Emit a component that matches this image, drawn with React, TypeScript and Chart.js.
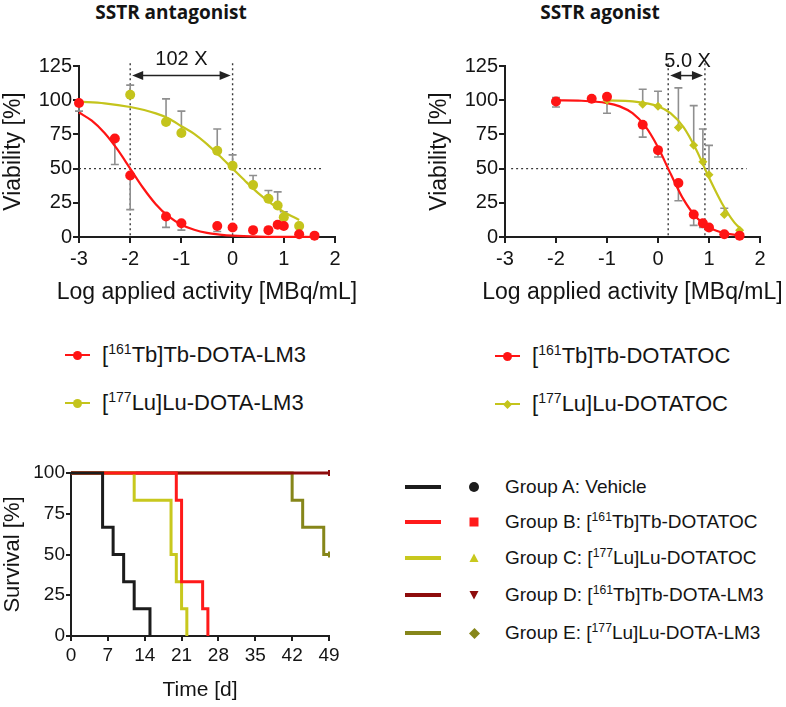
import React, { useEffect, useRef } from 'react';
import { Chart, registerables } from 'chart.js';

Chart.register(...registerables);

const FONT = '"Liberation Sans", Arial, Helvetica, sans-serif';
const TITLE_FONT = '"Open Sans", "Liberation Sans", sans-serif';
const RED = '#ff1414';
const YEL = '#c4c41c';
const GRAY = '#8f8f8f';
const AXIS = '#1e1e1e';
const TXT = '#141414';

// ---------- SSTR antagonist ----------
const antTbX = [-3, -2.3, -2, -1.3, -1, -0.3, 0, 0.4, 0.7, 0.88, 1, 1.3, 1.6];
const antTbY = [98, 72, 45, 15, 10, 8, 7, 5, 5, 9, 8, 2, 1];
const antTbErrLow = [6, 19, 25, 8, 5, 4, 0, 0, 0, 0, 0, 0, 0];
const antLuX = [-2, -1.3, -1, -0.3, 0, 0.4, 0.7, 0.88, 1, 1.3];
const antLuY = [104, 84, 76, 63, 52, 38, 28, 23, 14.5, 8];
const antLuErrHigh = [7, 17, 16, 16, 8, 7, 6, 10, 4, 0];
const antTbCurveX = [-3, -2.75, -2.5, -2.25, -2, -1.75, -1.5, -1.25, -1, -0.75, -0.5, -0.25, 0, 0.5, 1, 1.6];
const antTbCurveY = [91, 85, 76, 64, 50, 36, 24, 15, 9, 5.3, 3, 1.8, 1, 0.3, 0.1, 0];
const antLuCurveX = [-3, -2.5, -2, -1.5, -1.25, -1, -0.75, -0.5, -0.25, 0, 0.25, 0.5, 0.75, 1, 1.3];
const antLuCurveY = [98.9, 97.7, 95, 90.4, 86.7, 81, 75.4, 67.9, 59.2, 50, 40.8, 32.1, 24.6, 18.3, 12.5];
const antGuideX = [-2, 0];
const antFoldLabel = '102 X';

// ---------- SSTR agonist ----------
const agoTbX = [-2, -1.3, -1, -0.3, 0, 0.4, 0.7, 0.88, 1, 1.3, 1.6];
const agoTbY = [99, 101, 102.5, 82, 63.5, 39.5, 16.5, 10, 7, 2, 1];
const agoTbErrLow = [4, 0, 12, 9, 5, 13, 8, 3, 0, 0, 0];
const agoTbErrHigh = [3, 0, 0, 0, 0, 0, 0, 0, 0, 0, 0];
const agoLuX = [-1, -0.3, 0, 0.4, 0.7, 0.88, 1, 1.3, 1.6];
const agoLuY = [100, 97, 95.5, 80, 67, 55, 45.5, 16.5, 5];
const agoLuErrHigh = [0, 11, 11, 29, 29, 24, 21.5, 4.5, 0];
const agoTbCurveX = [-2, -1.5, -1, -0.75, -0.5, -0.25, 0, 0.25, 0.5, 0.75, 1, 1.25, 1.6];
const agoTbCurveY = [99.9, 99.6, 97.9, 95.5, 90.5, 81, 65.6, 46, 27.5, 14.5, 7, 3.3, 1.1];
const agoLuCurveX = [-1, -0.5, 0, 0.25, 0.5, 0.75, 1, 1.25, 1.5, 1.65];
const agoLuCurveY = [99.8, 99.1, 95.6, 90.3, 80.3, 63.8, 43.4, 24.9, 10.5, 5];
const agoGuideX = [0.2, 0.92];
const agoFoldLabel = '5.0 X';

const doseTicksX = [-3, 2];
const doseTicksY = [0, 125];
const doseXTitle = 'Log applied activity [MBq/mL]';
const doseYTitle = 'Viability [%]';

// ---------- Survival ----------
const survATime = [0, 6, 8, 10, 12, 15];
const survAPct = [100, 66.7, 50, 33.3, 16.7, 0];
const survBTime = [0, 20, 21, 25, 26];
const survBPct = [100, 83.3, 33.3, 16.7, 0];
const survCTime = [0, 12, 19, 20, 21, 22];
const survCPct = [100, 83.3, 50, 33.3, 16.7, 0];
const survDTime = [0, 49];
const survDPct = [100, 100];
const survETime = [0, 42, 44, 48, 49];
const survEPct = [100, 83.3, 66.7, 50, 50];
const survColors = ['#1c1c1c', '#ff1a1a', '#c8c81e', '#8e0c0c', '#86861a'];

const pts = (xs: number[], ys: number[]) => xs.map((x, i) => ({ x, y: ys[i] }));

const guidePlugin = {
  id: 'guides',
  beforeDatasetsDraw(chart: any, _a: any, opts: any) {
    if (!opts || !opts.vlines) return;
    const { ctx } = chart;
    const xs = chart.scales.x;
    const ys = chart.scales.y;
    ctx.save();
    ctx.setLineDash([2, 3]);
    ctx.strokeStyle = '#3a3a3a';
    ctx.lineWidth = 1.4;
    opts.vlines.forEach((v: number) => {
      const px = xs.getPixelForValue(v);
      ctx.beginPath();
      ctx.moveTo(px, ys.getPixelForValue(opts.vTop));
      ctx.lineTo(px, ys.getPixelForValue(0));
      ctx.stroke();
    });
    ctx.beginPath();
    ctx.moveTo(xs.getPixelForValue(opts.hFrom), ys.getPixelForValue(50));
    ctx.lineTo(xs.getPixelForValue(opts.hTo), ys.getPixelForValue(50));
    ctx.stroke();
    ctx.restore();
  },
  afterDatasetsDraw(chart: any, _a: any, opts: any) {
    if (!opts || !opts.vlines) return;
    const { ctx } = chart;
    const xs = chart.scales.x;
    const ys = chart.scales.y;
    const x0 = xs.getPixelForValue(opts.vlines[0]) + 2;
    const x1 = xs.getPixelForValue(opts.vlines[1]) - 2;
    const y = ys.getPixelForValue(opts.arrowY);
    ctx.save();
    ctx.strokeStyle = '#222';
    ctx.fillStyle = '#222';
    ctx.lineWidth = 1.5;
    ctx.beginPath();
    ctx.moveTo(x0 + 6, y);
    ctx.lineTo(x1 - 6, y);
    ctx.stroke();
    const head = (tip: number, dir: number) => {
      ctx.beginPath();
      ctx.moveTo(tip, y);
      ctx.lineTo(tip + dir * 11, y - 4.5);
      ctx.lineTo(tip + dir * 11, y + 4.5);
      ctx.closePath();
      ctx.fill();
    };
    head(x0, 1);
    head(x1, -1);
    ctx.font = `20px ${FONT}`;
    ctx.textAlign = 'center';
    ctx.textBaseline = 'middle';
    ctx.fillStyle = TXT;
    ctx.fillText(opts.label, xs.getPixelForValue(opts.labelX), ys.getPixelForValue(opts.labelY));
    ctx.restore();
  },
};

// x-axis title drawn without Chart.js' maxWidth squeeze
const xTitlePlugin = {
  id: 'xTitle',
  afterDraw(chart: any, _a: any, opts: any) {
    if (!opts || !opts.text) return;
    const { ctx, chartArea } = chart;
    ctx.save();
    ctx.font = `${opts.size}px ${FONT}`;
    ctx.fillStyle = TXT;
    ctx.textAlign = 'center';
    ctx.textBaseline = 'middle';
    ctx.fillText(opts.text, (chartArea.left + chartArea.right) / 2, chartArea.bottom + opts.offset);
    ctx.restore();
  },
};

const errorBarPlugin = {
  id: 'errbars',
  beforeDatasetsDraw(chart: any) {
    const { ctx } = chart;
    const ys = chart.scales.y;
    chart.data.datasets.forEach((ds: any, i: number) => {
      if (!ds.errLow && !ds.errHigh) return;
      const meta = chart.getDatasetMeta(i);
      ctx.save();
      ctx.strokeStyle = GRAY;
      ctx.lineWidth = 1.6;
      ds.data.forEach((p: any, j: number) => {
        const px = meta.data[j].x;
        const py = ys.getPixelForValue(p.y);
        [
          [ds.errLow, -1],
          [ds.errHigh, 1],
        ].forEach(([arr, s]: any) => {
          const e = arr ? arr[j] : 0;
          if (!e) return;
          const ey = ys.getPixelForValue(p.y + s * e);
          ctx.beginPath();
          ctx.moveTo(px, py);
          ctx.lineTo(px, ey);
          ctx.moveTo(px - 4, ey);
          ctx.lineTo(px + 4, ey);
          ctx.stroke();
        });
      });
      ctx.restore();
    });
  },
};

function axisBase(min: number, max: number, step: number, size: number, pad: number, tickLen: number) {
  return {
    type: 'linear',
    min,
    max,
    ticks: { stepSize: step, font: { family: FONT, size }, color: TXT, padding: pad },
    grid: { display: true, drawOnChartArea: false, drawTicks: true, tickLength: tickLen, color: AXIS, lineWidth: 2 },
    border: { display: true, color: AXIS, width: 2 },
  };
}

function doseConfig(o: any) {
  return {
    type: 'scatter',
    data: {
      datasets: [
        { data: pts(o.tbX, o.tbY), errLow: o.tbErrLow, errHigh: o.tbErrHigh, pointStyle: 'circle', pointRadius: 5, backgroundColor: RED, borderColor: RED, borderWidth: 0, clip: false },
        { data: pts(o.luX, o.luY), errHigh: o.luErrHigh, pointStyle: o.luStyle, pointRadius: o.luRadius, backgroundColor: YEL, borderColor: YEL, borderWidth: 0, clip: false },
        { data: pts(o.tbCX, o.tbCY), showLine: true, pointRadius: 0, borderColor: RED, borderWidth: 2.2, cubicInterpolationMode: 'monotone', clip: false },
        { data: pts(o.luCX, o.luCY), showLine: true, pointRadius: 0, borderColor: YEL, borderWidth: 2.2, cubicInterpolationMode: 'monotone', clip: false },
      ],
    },
    options: {
      responsive: false,
      animation: false,
      events: [],
      layout: { padding: o.padding },
      plugins: {
        legend: { display: false },
        tooltip: { enabled: false },
        guides: o.guides,
        xTitle: { text: doseXTitle, size: 23, offset: 56 },
      },
      scales: {
        x: {
          ...axisBase(doseTicksX[0], doseTicksX[1], 1, 20, 4, 6),
          afterFit: (s: any) => { s.height = 83; },
        },
        y: {
          ...axisBase(doseTicksY[0], doseTicksY[1], 25, 20, 1, 6),
          title: { display: true, text: doseYTitle, font: { family: FONT, size: 23 }, color: TXT, padding: { top: 0, bottom: 0 } },
          afterFit: (s: any) => { s.width = 79; },
        },
      },
    },
    plugins: [guidePlugin, errorBarPlugin, xTitlePlugin],
  };
}

function survivalConfig() {
  const sets = [
    [survATime, survAPct],
    [survBTime, survBPct],
    [survCTime, survCPct],
    [survDTime, survDPct],
    [survETime, survEPct],
  ];
  return {
    type: 'scatter',
    data: {
      datasets: sets.map(([t, p], i) => ({
        data: pts(t, p),
        showLine: true,
        stepped: 'before',
        borderColor: survColors[i],
        backgroundColor: survColors[i],
        borderWidth: 3,
        pointStyle: 'line',
        rotation: 90,
        pointRadius: t.map((x, k) => (i >= 3 && k === t.length - 1 ? 3 : 0)),
        pointBorderWidth: 2,
        clip: false,
      })),
    },
    options: {
      responsive: false,
      animation: false,
      events: [],
      layout: { padding: { left: 0, right: 64, top: 13, bottom: 0 } },
      plugins: { legend: { display: false }, tooltip: { enabled: false } },
      scales: {
        x: {
          ...axisBase(0, 49, 7, 19, 3, 5),
          title: { display: true, text: 'Time [d]', font: { family: FONT, size: 21 }, color: TXT, padding: { top: 0, bottom: 4 } },
          afterFit: (s: any) => { s.height = 71; },
        },
        y: {
          ...axisBase(0, 100, 25, 19, 1, 5),
          title: { display: true, text: 'Survival [%]', font: { family: FONT, size: 22 }, color: TXT, padding: { top: 0, bottom: 0 } },
          afterFit: (s: any) => { s.width = 71; },
        },
      },
    },
  };
}

function ChartCanvas({ left, top, width, height, make }: any) {
  const ref = useRef<HTMLCanvasElement>(null);
  useEffect(() => {
    const chart = new Chart(ref.current as HTMLCanvasElement, make());
    return () => chart.destroy();
  }, []);
  return <canvas ref={ref} width={width} height={height} style={{ position: 'absolute', left, top, width, height }} />;
}

const Sup = ({ children }: any) => (
  <span style={{ fontSize: '0.64em', position: 'relative', top: '-0.6em', lineHeight: 0 }}>{children}</span>
);

function Marker({ shape, color, size }: any) {
  const s = size;
  let el: any = null;
  if (shape === 'circle') el = <circle cx={s / 2} cy={s / 2} r={s / 2} fill={color} />;
  if (shape === 'square') el = <rect x={0.5} y={0.5} width={s - 1} height={s - 1} fill={color} />;
  if (shape === 'triangle') el = <polygon points={`${s / 2},0.5 ${s - 0.5},${s - 1} 0.5,${s - 1}`} fill={color} />;
  if (shape === 'triangleDown') el = <polygon points={`0.5,1 ${s - 0.5},1 ${s / 2},${s - 0.5}`} fill={color} />;
  if (shape === 'diamond') el = <polygon points={`${s / 2},0 ${s},${s / 2} ${s / 2},${s} 0,${s / 2}`} fill={color} />;
  return (
    <svg width={s} height={s} style={{ display: 'block' }}>
      {el}
    </svg>
  );
}

const midLegendIso = ['161', '177'];
const midLegendEl = ['Tb', 'Lu'];
const midLegendLeftRest = [']Tb-DOTA-LM3', ']Lu-DOTA-LM3'];
const midLegendRightRest = [']Tb-DOTATOC', ']Lu-DOTATOC'];

const groupPrefix = ['Group A: Vehicle', 'Group B: [', 'Group C: [', 'Group D: [', 'Group E: ['];
const groupIso = ['', '161', '177', '161', '177'];
const groupRest = ['', 'Tb]Tb-DOTATOC', 'Lu]Lu-DOTATOC', 'Tb]Tb-DOTA-LM3', 'Lu]Lu-DOTA-LM3'];
const groupShapes = ['circle', 'square', 'triangle', 'triangleDown', 'diamond'];

function MidLegendRow({ x, y, color, shape, iso, el, rest }: any) {
  return (
    <>
      <div style={{ position: 'absolute', left: x - 12, top: y - 1.25, width: 25, height: 2.5, background: color }} />
      <div style={{ position: 'absolute', left: x - 4.5, top: y - 4.5 }}>
        <Marker shape={shape} color={color} size={9} />
      </div>
      <div style={{ position: 'absolute', left: x + 25, top: y - 14, height: 28, lineHeight: '28px', fontSize: 22, fontFamily: FONT, color: TXT, whiteSpace: 'nowrap' }}>
        [<Sup>{iso}</Sup>
        {el}
        {rest}
      </div>
    </>
  );
}

export default function App() {
  const groupY = [487, 522, 558, 595, 633];
  return (
    <div style={{ position: 'absolute', left: 0, top: 0, width: 786, height: 707, overflow: 'hidden', background: '#fff' }}>
      <div style={{ position: 'absolute', left: 71, width: 200, top: 0, height: 24, lineHeight: '24px', textAlign: 'center', fontFamily: TITLE_FONT, fontWeight: 700, fontSize: 19, color: TXT }}>
        SSTR antagonist
      </div>
      <div style={{ position: 'absolute', left: 500, width: 200, top: 0, height: 24, lineHeight: '24px', textAlign: 'center', fontFamily: TITLE_FONT, fontWeight: 700, fontSize: 19, color: TXT }}>
        SSTR agonist
      </div>

      <ChartCanvas
        left={0}
        top={30}
        width={393}
        height={290}
        make={() =>
          doseConfig({
            tbX: antTbX, tbY: antTbY, tbErrLow: antTbErrLow, tbErrHigh: null,
            luX: antLuX, luY: antLuY, luErrHigh: antLuErrHigh, luStyle: 'circle', luRadius: 5,
            tbCX: antTbCurveX, tbCY: antTbCurveY, luCX: antLuCurveX, luCY: antLuCurveY,
            padding: { left: 0, right: 58, top: 36, bottom: 0 },
            guides: { vlines: antGuideX, vTop: 127, hFrom: -3, hTo: 1.74, arrowY: 118, label: antFoldLabel, labelX: -1.0, labelY: 130 },
          })
        }
      />
      <ChartCanvas
        left={393}
        top={30}
        width={393}
        height={290}
        make={() =>
          doseConfig({
            tbX: agoTbX, tbY: agoTbY, tbErrLow: agoTbErrLow, tbErrHigh: agoTbErrHigh,
            luX: agoLuX, luY: agoLuY, luErrHigh: agoLuErrHigh, luStyle: 'rectRot', luRadius: 4.5,
            tbCX: agoTbCurveX, tbCY: agoTbCurveY, luCX: agoLuCurveX, luCY: agoLuCurveY,
            padding: { left: 33, right: 26, top: 36, bottom: 0 },
            guides: { vlines: agoGuideX, vTop: 127, hFrom: -2.88, hTo: 1.74, arrowY: 118, label: agoFoldLabel, labelX: 0.58, labelY: 128.5 },
          })
        }
      />

      <MidLegendRow x={77} y={355} color={RED} shape="circle" iso={midLegendIso[0]} el={midLegendEl[0]} rest={midLegendLeftRest[0]} />
      <MidLegendRow x={77} y={403} color={YEL} shape="circle" iso={midLegendIso[1]} el={midLegendEl[1]} rest={midLegendLeftRest[1]} />
      <MidLegendRow x={507} y={356} color={RED} shape="circle" iso={midLegendIso[0]} el={midLegendEl[0]} rest={midLegendRightRest[0]} />
      <MidLegendRow x={507} y={404} color={YEL} shape="diamond" iso={midLegendIso[1]} el={midLegendEl[1]} rest={midLegendRightRest[1]} />

      <ChartCanvas left={0} top={460} width={393} height={247} make={survivalConfig} />

      {groupPrefix.map((pre, i) => (
        <React.Fragment key={i}>
          <div style={{ position: 'absolute', left: 405, top: groupY[i] - 1.75, width: 36, height: 3.5, background: survColors[i] }} />
          <div style={{ position: 'absolute', left: 469, top: groupY[i] - 5 }}>
            <Marker shape={groupShapes[i]} color={survColors[i]} size={i === 4 ? 11 : 10} />
          </div>
          <div style={{ position: 'absolute', left: 505, top: groupY[i] - 12, height: 24, lineHeight: '24px', fontSize: 19, fontFamily: FONT, color: TXT, whiteSpace: 'nowrap' }}>
            {pre}
            {groupIso[i] ? <Sup>{groupIso[i]}</Sup> : null}
            {groupRest[i]}
          </div>
        </React.Fragment>
      ))}
    </div>
  );
}
